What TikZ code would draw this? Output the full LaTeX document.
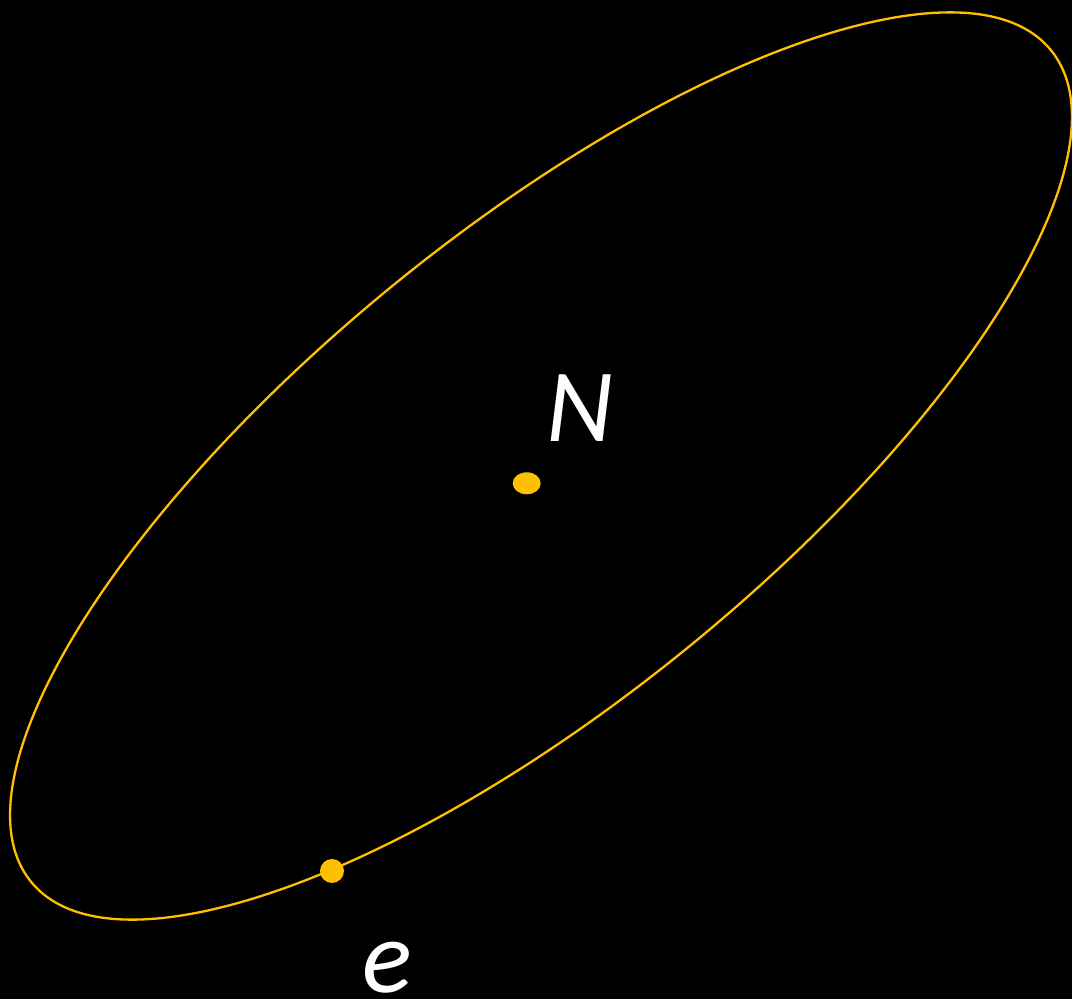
\documentclass[tikz,border=0pt]{standalone}
\usepackage{fontspec}
\setmainfont{Carlito}
\definecolor{gold}{HTML}{FFC000}
\tikzset{
  orbit/.style={draw=gold, line width=2.3pt},
  dot/.style={fill=gold},
  lbl/.style={text=white, inner sep=0pt, anchor=base, font=\fontsize{104}{110}\selectfont\itshape}
}
\begin{document}
\begin{tikzpicture}[x=1pt,y=1pt]
\fill[black] (0,0) rectangle (1072,999);
\useasboundingbox (0,0) rectangle (1072,999);
\coordinate (c) at (541,533);
\draw[orbit, rotate around={39.2:(c)}] (c) ellipse [x radius=658pt, y radius=233.5pt];
\coordinate (nuc) at (526.7,515.7);
\coordinate (el) at (332,128);
\fill[dot] (nuc) ellipse [x radius=14pt, y radius=11pt];
\fill[dot] (el) circle [radius=12pt];
\node[lbl] (N) at (580,557) {N};
\node[lbl] (e) at (387,6) {e};
\end{tikzpicture}
\end{document}
